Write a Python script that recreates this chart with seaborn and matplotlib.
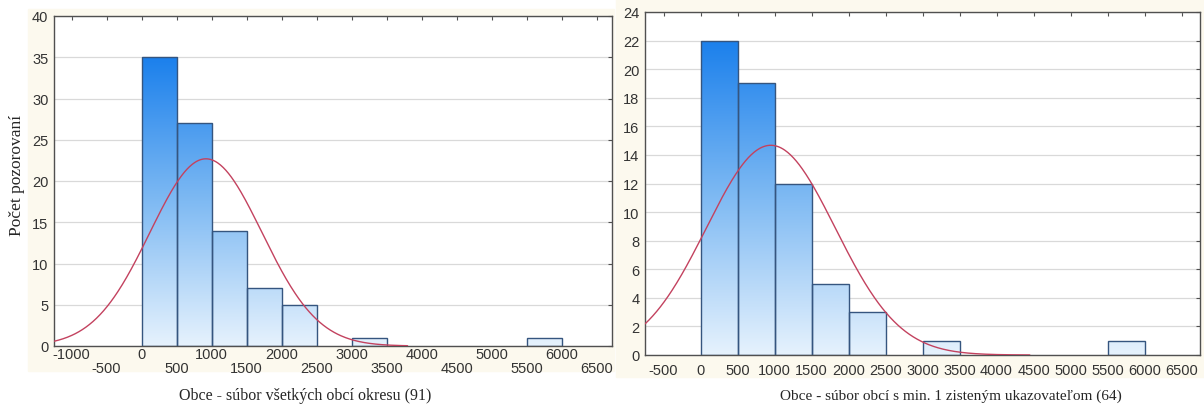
import matplotlib
matplotlib.use('Agg')
import matplotlib.pyplot as plt
from matplotlib.colors import LinearSegmentedColormap
from matplotlib.patches import Rectangle
import seaborn as sns
import numpy as np
import pandas as pd

# bins 0-500, 500-1000, ... 5500-6000 and observed counts per bin
bin_starts = list(range(0, 6000, 500))
counts_all = [35, 27, 14, 7, 5, 0, 1, 0, 0, 0, 0, 1]
counts_min1 = [22, 19, 12, 5, 3, 0, 1, 0, 0, 0, 0, 1]

# fitted normal curve parameters (mean, sd, n, curve end)
fit_all = (920, 800, 91, 3800)
fit_min1 = (950, 870, 64, 4450)

xlabel_all = 'Obce - súbor všetkých obcí okresu (91)'
xlabel_min1 = 'Obce - súbor obcí s min. 1 zisteným ukazovateľom (64)'
ylabel = 'Počet pozorovaní'

sns.set_style('white')
plt.rcParams['font.family'] = ['Liberation Sans', 'DejaVu Sans']

grad = LinearSegmentedColormap.from_list('grad', ['#e6f2fd', '#7fbaf3', '#1b80ec'])


def draw_hist(ax, counts, fit, xlim, ylim, yticks):
    df = pd.DataFrame({'x': [b + 250 for b in bin_starts], 'n': counts})
    sns.histplot(data=df, x='x', weights='n', binwidth=500, binrange=(0, 6000),
                 ax=ax, edgecolor='#35557f', linewidth=1.0, color='#6fb0f0')
    top = max(counts)
    for p in list(ax.patches):
        if p.get_height() <= 0:
            p.set_visible(False)
            continue
        x0 = p.get_x()
        img = ax.imshow(np.linspace(1, 0, 256).reshape(-1, 1), cmap=grad,
                        extent=(x0, x0 + p.get_width(), 0, top),
                        aspect='auto', zorder=p.get_zorder() - 0.1,
                        vmin=0, vmax=1)
        img.set_clip_path(p)
        p.set_facecolor('none')

    mean, sd, n, xend = fit
    xs = np.linspace(xlim[0], xend, 400)
    ys = n * 500 / (sd * np.sqrt(2 * np.pi)) * np.exp(-(xs - mean) ** 2 / (2 * sd ** 2))
    ax.plot(xs, ys, color='#c3425f', linewidth=1.0, zorder=5)

    ax.set_xlim(*xlim)
    ax.set_ylim(*ylim)
    ax.set_yticks(yticks)
    ax.set_facecolor('white')
    ax.grid(axis='y', color='#d9d9d9', linewidth=0.9)
    ax.set_axisbelow(True)
    for s in ax.spines.values():
        s.set_color('#505050')
        s.set_linewidth(1.0)
    ax.tick_params(direction='in', top=True, right=True, length=3,
                   width=0.8, color='#505050', labelsize=10.5,
                   labelcolor='#333333', pad=4)
    ax.set_ylabel('')


fig = plt.figure(figsize=(12.04, 4.10), dpi=100)
fig.patches.append(Rectangle((28 / 1204, 38 / 410), 586 / 1204, 362 / 410,
                             transform=fig.transFigure, color='#fcf9ee', zorder=-10))
fig.patches.append(Rectangle((616 / 1204, 32 / 410), 588 / 1204, 378 / 410,
                             transform=fig.transFigure, color='#fcf9ee', zorder=-10))

ax1 = fig.add_axes([54 / 1204, 1 - 347 / 410, 558 / 1204, 330 / 410])
ax2 = fig.add_axes([645 / 1204, 1 - 356 / 410, 555 / 1204, 343 / 410])

draw_hist(ax1, counts_all, fit_all, (-1250, 6720), (0, 40), range(0, 41, 5))
draw_hist(ax2, counts_min1, fit_min1, (-750, 6750), (0, 24), range(0, 25, 2))

xt1 = np.arange(-1000, 7000, 500)
ax1.set_xticks(xt1)
ax1.set_xticklabels([str(v) if v % 1000 == 0 else '\n' + str(v) for v in xt1],
                    linespacing=1.0)
ax1.tick_params(axis='x', pad=1)
xt2 = np.arange(-500, 7000, 500)
ax2.set_xticks(xt2)
ax2.set_xticklabels([str(v) for v in xt2])
ax2.tick_params(axis='x', pad=6)

ax1.set_xlabel(xlabel_all, family='Liberation Serif', fontsize=11.5)
ax1.xaxis.set_label_coords(0.45, -0.125)
ax2.set_xlabel(xlabel_min1, family='Liberation Serif', fontsize=11)
ax2.xaxis.set_label_coords(0.551, -0.098)
ax1.set_ylabel(ylabel, family='Liberation Serif', fontsize=12.5)
ax1.yaxis.set_label_coords(-0.052, 0.52)

fig.savefig('out.png', dpi=100, facecolor='white')
